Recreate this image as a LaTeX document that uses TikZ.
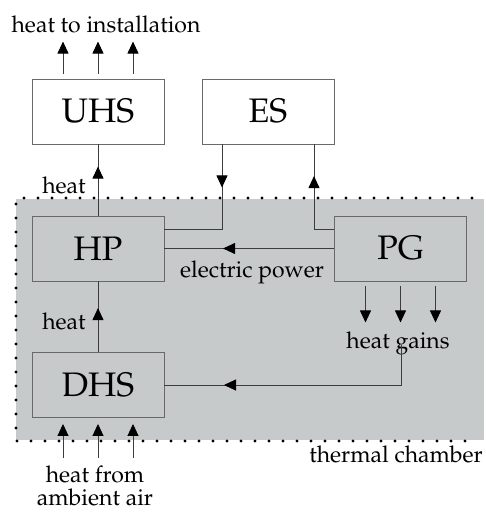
\documentclass[tikz,border=0pt]{standalone}
\usepackage[T1]{fontenc}
\usepackage{mathpazo}
\usetikzlibrary{arrows.meta,decorations.markings}
\definecolor{chamber}{RGB}{199,202,203}
\definecolor{boxline}{RGB}{105,105,105}
\definecolor{flowline}{RGB}{60,60,60}
\tikzset{
 blk/.style={draw=boxline, line width=0.9pt, minimum width=132pt, minimum height=65pt, inner sep=0pt, font=\fontsize{34}{40}\selectfont},
 lbl/.style={font=\fontsize{23}{27}\selectfont, inner sep=0pt, anchor=base},
 flow/.style={draw=flowline, line width=0.9pt},
 tipend/.style={-{Triangle[length=12pt,width=11pt,color=black]}},
 midarr/.style={postaction={decorate}, decoration={markings, mark=at position #1 with {\arrow{Triangle[length=12pt,width=11pt,color=black]}}}},
 dotline/.style={line width=3.2pt, line cap=round, dash pattern=on 0pt off 14pt},
}
\begin{document}
\begin{tikzpicture}[x=1pt,y=-1pt]
\useasboundingbox (0,0) rectangle (486,512);
\fill[white] (0,0) rectangle (486,512);
% thermal chamber
\fill[chamber] (16,199) rectangle (484,440);
\draw[dotline] (472,198) -- (16,198) -- (16,441) -- (476,441);
% blocks
\node[blk] (UHS) at (98,111.5) {UHS};
\node[blk] (ES)  at (268,111.5) {ES};
\node[blk] (HP)  at (98,248.5) {HP};
\node[blk] (PG)  at (400.5,248.5) {PG};
\node[blk] (DHS) at (98,385) {DHS};
% labels
\node[lbl] (tinst) at (106,32) {heat to installation};
\node[lbl] (h1) at (64,193) {heat};
\node[lbl] (ep) at (252,277) {electric power};
\node[lbl] (h2) at (64,329) {heat};
\node[lbl] (hg) at (398,348) {heat gains};
\node[lbl,anchor=base east] (tc) at (483,462) {thermal chamber};
\node[lbl] (hf1) at (95,482) {heat from};
\node[lbl] (hf2) at (95,505) {ambient air};
% free ends
\foreach \i/\dx in {1/-35,2/0,3/35}{
  \coordinate (ua\i) at ([xshift=\dx pt,yshift=5pt]UHS.north);
  \coordinate (ub\i) at ([xshift=\dx pt,yshift=37pt]UHS.north);
  \draw[flow,tipend] (ua\i) -- (ub\i);
  \coordinate (ga\i) at ([xshift=\dx pt,yshift=-5pt]PG.south);
  \coordinate (gb\i) at ([xshift=\dx pt,yshift=-41pt]PG.south);
  \draw[flow,tipend] (ga\i) -- (gb\i);
  \coordinate (da\i) at ([xshift=\dx pt,yshift=-40pt]DHS.south);
  \coordinate (db\i) at ([xshift=\dx pt,yshift=-6pt]DHS.south);
  \draw[flow,tipend] (da\i) -- (db\i);
}
\coordinate (hgs) at (401,345);
% connectors
\draw[flow,midarr=49pt] (HP.north) -- (UHS.south);
\draw[flow,midarr=44pt] (DHS.north) -- (HP.south);
\draw[flow,midarr=43pt] ([xshift=-46pt]ES.south) |- ([yshift=19.5pt]HP.east);
\draw[flow,midarr=73pt] ([yshift=19.5pt]PG.west) -| ([xshift=46pt]ES.south);
\draw[flow,midarr=111pt] (PG.west) -- (HP.east);
\draw[flow,midarr=217pt] (hgs) |- (DHS.east);
\end{tikzpicture}
\end{document}
